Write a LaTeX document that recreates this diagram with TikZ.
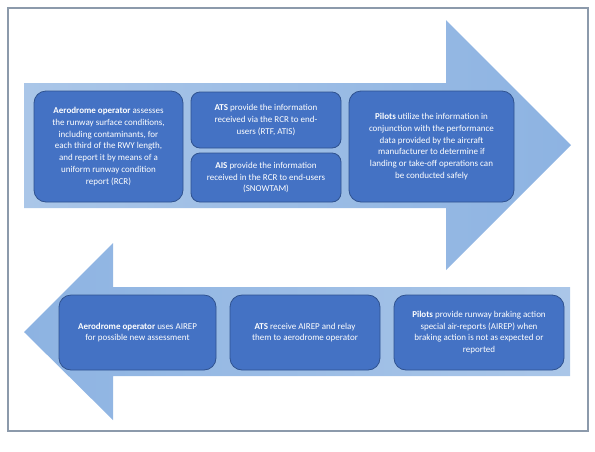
\documentclass[tikz,border=0pt]{standalone}
\usepackage{fontspec}
\setmainfont{Carlito}
\usepackage{tikz}
\usetikzlibrary{
  positioning % 节点相对定位
}
\definecolor{boxfill}{HTML}{4472C4}
\definecolor{boxline}{HTML}{2F528F}
\definecolor{arrowlight}{HTML}{AAC6E8}
\definecolor{arrowdark}{HTML}{8DB3E2}
\definecolor{frameline}{HTML}{8C9AAB}
\tikzset{
  flow box/.style={
    draw=boxline,
    fill=boxfill,
    line width=0.8pt,
    rounded corners=12pt,
    text=white,
    align=center,
    inner sep=0pt,
    font=\fontsize{9}{11.7}\selectfont
  },
  small box/.style={
    flow box,
    rounded corners=9pt
  },
  big arrow/.style={
    draw=none
  }
}

\begin{document}
\begin{tikzpicture}[x=1pt, y=-1pt] % 整体思路：上方向右的大箭头承载三段信息流，下方向左的大箭头承载反馈流

  \useasboundingbox (0,0) rectangle (595,451); % 固定画布大小

  % 外框
  \draw[frameline, line width=1.2pt] (8,8) rectangle (588,431); % 灰色外框

  % 上方箭头 (向右)
  \coordinate (R1) at (24,83);   % 箭身左上
  \coordinate (R2) at (446,83);  % 箭身右上
  \coordinate (R3) at (446,20);  % 箭头上角
  \coordinate (R4) at (571,145); % 箭尖
  \coordinate (R5) at (446,270); % 箭头下角
  \coordinate (R6) at (446,208); % 箭身右下
  \coordinate (R7) at (24,208);  % 箭身左下
  \shade[big arrow, left color=arrowlight, right color=arrowdark] (R1) -- (R2) -- (R3) -- (R4) -- (R5) -- (R6) -- (R7) -- cycle; % 填充向右箭头

  % 下方箭头 (向左)
  \coordinate (L1) at (570,287); % 箭身右上
  \coordinate (L2) at (113,287); % 箭身左上
  \coordinate (L3) at (113,243); % 箭头上角
  \coordinate (L4) at (24,332);  % 箭尖
  \coordinate (L5) at (113,420); % 箭头下角
  \coordinate (L6) at (113,376); % 箭身左下
  \coordinate (L7) at (570,376); % 箭身右下
  \shade[big arrow, left color=arrowdark, right color=arrowlight] (L1) -- (L2) -- (L3) -- (L4) -- (L5) -- (L6) -- (L7) -- cycle; % 填充向左箭头

  % 上方信息框
  \node[flow box, minimum width=149, minimum height=111] (aero) at (108.5,146.5)
    {\textbf{Aerodrome operator} assesses\\the runway surface conditions,\\including contaminants, for\\each third of the RWY length,\\and report it by means of a\\uniform runway condition\\report (RCR)}; % 机场运营人评估
  \node[small box, minimum width=150, minimum height=56] (ats) at (266,120)
    {\textbf{ATS} provide the information\\received via the RCR to end-\\users (RTF, ATIS)}; % ATS 发布
  \node[small box, minimum width=150, minimum height=49] (ais) at (266,177.5)
    {\textbf{AIS} provide the information\\received in the RCR to end-users\\(SNOWTAM)}; % AIS 发布
  \node[flow box, minimum width=165, minimum height=111] (pilots) at (431.5,146.5)
    {\textbf{Pilots} utilize the information in\\conjunction with the performance\\data provided by the aircraft\\manufacturer to determine if\\landing or take-off operations can\\be conducted safely}; % 飞行员使用

  % 下方反馈框
  \node[flow box, minimum width=157, minimum height=75] (aerofb) at (137.5,332.5)
    {\textbf{Aerodrome operator} uses AIREP\\for possible new assessment}; % 机场运营人再评估
  \node[flow box, minimum width=150, minimum height=75] (atsfb) at (305,332.5)
    {\textbf{ATS} receive AIREP and relay\\them to aerodrome operator}; % ATS 转发
  \node[flow box, minimum width=170, minimum height=75] (pilotsfb) at (479,332.5)
    {\textbf{Pilots} provide runway braking action\\special air-reports (AIREP) when\\braking action is not as expected or\\reported}; % 飞行员报告

\end{tikzpicture}
\end{document}
